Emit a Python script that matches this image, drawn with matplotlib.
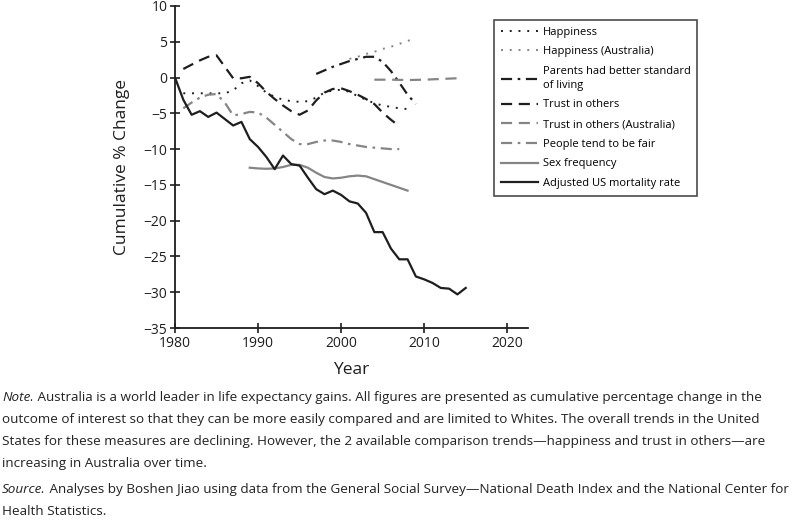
import matplotlib
matplotlib.use('Agg')
import matplotlib.pyplot as plt

plt.rcParams['font.family'] = ['Open Sans', 'DejaVu Sans']

# data
mort_years = list(range(1980, 2016))
mortality = [0, -3.1, -5.2, -4.7, -5.5, -4.9, -5.8, -6.7, -6.2, -8.6, -9.7,
             -11.1, -12.8, -10.9, -12.1, -12.3, -14.0, -15.6, -16.3, -15.8, -16.4,
             -17.3, -17.6, -18.9, -21.6, -21.6, -23.9, -25.4, -25.4, -27.8, -28.2,
             -28.7, -29.4, -29.5, -30.3, -29.4]

sex_years = list(range(1989, 2009))
sex_freq = [-12.6, -12.7, -12.75, -12.7, -12.5, -12.2, -12.2, -12.6, -13.3, -13.9,
            -14.1, -14.0, -13.8, -13.7, -13.8, -14.2, -14.6, -15.0, -15.4, -15.8]

happy_years = list(range(1981, 2009))
happiness = [-2.2, -2.2, -2.2, -2.2, -2.2, -2.2, -1.8, -0.8, -0.4, -1.2,
             -2.1, -2.7, -3.1, -3.3, -3.4, -3.3, -2.8, -2.1, -1.8, -1.7,
             -2.0, -2.6, -3.1, -3.6, -3.9, -4.1, -4.3, -4.4]

happy_au_years = list(range(2001, 2010))
happiness_au = [2.6, 2.9, 3.3, 3.6, 4.0, 4.3, 4.7, 5.1, 5.6]

parents_years = list(range(1997, 2010))
parents = [0.5, 1.0, 1.5, 1.9, 2.3, 2.6, 2.9, 2.9, 2.2, 0.9, -0.7, -2.4, -3.7]

trust_years = list(range(1981, 2008))
trust = [1.2, 1.8, 2.4, 2.9, 3.1, 1.5, -0.1, -0.1, 0.1, -0.8,
         -2.0, -3.0, -3.9, -4.7, -5.2, -4.6, -3.2, -2.1, -1.6, -1.5,
         -1.9, -2.4, -3.0, -3.7, -4.9, -5.9, -6.8]

trust_au_years = [2004, 2006, 2008, 2010, 2012, 2014]
trust_au = [-0.3, -0.3, -0.35, -0.3, -0.2, -0.1]

fair_years = list(range(1981, 2008))
fair = [-4.3, -3.5, -2.8, -2.4, -2.3, -3.5, -5.3, -5.1, -4.8, -4.9,
        -5.6, -6.6, -7.6, -8.6, -9.3, -9.3, -9.0, -8.8, -8.8, -9.0,
        -9.3, -9.5, -9.7, -9.8, -9.9, -10.0, -10.0]

labels = ['Happiness', 'Happiness (Australia)', 'Parents had better standard\nof living',
          'Trust in others', 'Trust in others (Australia)', 'People tend to be fair',
          'Sex frequency', 'Adjusted US mortality rate']

dark = '#1e1e1e'
grey = '#858585'

fig = plt.figure(figsize=(7.94, 5.2), dpi=100)
ax = fig.add_axes([0.2204, 0.3692, 0.4446, 0.6193])

ax.plot(happy_years, happiness, color=dark, ls=(0, (1, 3.5)), lw=1.4, label=labels[0])
ax.plot(happy_au_years, happiness_au, color=grey, ls=(0, (1, 3.5)), lw=1.4, label=labels[1])
ax.plot(parents_years, parents, color=dark, ls=(0, (5, 2.5, 1.2, 2.5)), lw=1.6, label=labels[2])
ax.plot(trust_years, trust, color=dark, ls=(0, (5, 3)), lw=1.6, label=labels[3])
ax.plot(trust_au_years, trust_au, color=grey, ls=(0, (5, 3)), lw=1.6, label=labels[4])
ax.plot(fair_years, fair, color=grey, ls=(0, (5, 2.5, 1.2, 2.5)), lw=1.6, label=labels[5])
ax.plot(sex_years, sex_freq, color=grey, lw=1.6, label=labels[6])
ax.plot(mort_years, mortality, color=dark, lw=1.6, label=labels[7])

ax.set_xlim(1980, 2022.5)
ax.set_ylim(-35, 10)
ax.set_xticks([1980, 1990, 2000, 2010, 2020])
ax.set_yticks(range(-35, 11, 5))
ax.set_yticklabels([str(v).replace('-', '\u2212') for v in range(-35, 11, 5)])
for s in ['top', 'right']:
    ax.spines[s].set_visible(False)
for s in ['left', 'bottom']:
    ax.spines[s].set_linewidth(1.3)
    ax.spines[s].set_color(dark)
ax.tick_params(direction='inout', length=7, width=1.2, labelsize=10, colors=dark, pad=2)
ax.set_ylabel('Cumulative % Change', fontsize=12.5, labelpad=10, color=dark)
ax.set_xlabel('Year', fontsize=12.5, labelpad=8, color=dark)

leg = fig.legend(loc='upper left', bbox_to_anchor=(494 / 794, 1 - 20 / 520),
                 fontsize=8.0, frameon=True, fancybox=False, handlelength=3.4,
                 handletextpad=0.4, labelspacing=0.78, borderpad=0.6, borderaxespad=0)
leg.get_frame().set_edgecolor(dark)
leg.get_frame().set_linewidth(1.2)
leg.get_texts()[2].set_linespacing(1.35)

note_lines = [
    ' Australia is a world leader in life expectancy gains. All figures are presented as cumulative percentage change in the',
    'outcome of interest so that they can be more easily compared and are limited to Whites. The overall trends in the United',
    'States for these measures are declining. However, the 2 available comparison trends\u2014happiness and trust in others\u2014are',
    'increasing in Australia over time.',
]
src_lines = [
    ' Analyses by Boshen Jiao using data from the General Social Survey\u2014National Death Index and the National Center for',
    'Health Statistics.',
]

nfont = ['Open Sans', 'DejaVu Sans']
fs = 9.7
x0 = 2 / 794
fig.canvas.draw()
renderer = fig.canvas.get_renderer()


def italic_lead(word, rest, y):
    t = fig.text(x0, y, word, fontsize=fs, family=nfont, style='italic',
                 va='baseline', color='#222222')
    bb = t.get_window_extent(renderer)
    fig.text(bb.x1 / fig.bbox.width, y, rest, fontsize=fs, family=nfont,
             va='baseline', color='#222222')


ys = [1 - 401 / 520, 1 - 423 / 520, 1 - 445 / 520, 1 - 467 / 520]
italic_lead('Note.', note_lines[0], ys[0])
for line, y in zip(note_lines[1:], ys[1:]):
    fig.text(x0, y, line, fontsize=fs, family=nfont, va='baseline', color='#222222')
italic_lead('Source.', src_lines[0], 1 - 493 / 520)
fig.text(x0, 1 - 515 / 520, src_lines[1], fontsize=fs, family=nfont, va='baseline', color='#222222')

fig.savefig('out.png', dpi=100)
